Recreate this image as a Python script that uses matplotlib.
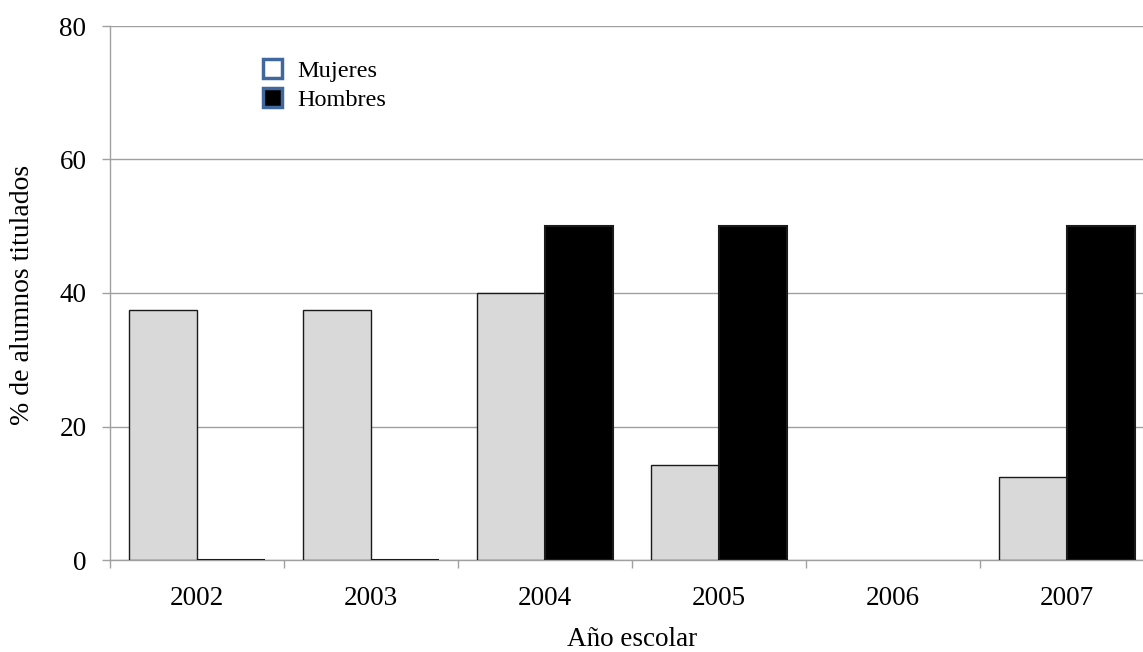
import numpy as np
import matplotlib.pyplot as plt
from matplotlib.patches import Patch
from matplotlib.ticker import FixedLocator, NullFormatter, FixedFormatter

# datos: % de alumnos titulados por año escolar
years = ['2002', '2003', '2004', '2005', '2006', '2007']
mujeres = [37.5, 37.5, 40.0, 14.3, np.nan, 12.5]
hombres = [0.0, 0.0, 50.0, 50.0, np.nan, 50.0]
yticks = [0, 20, 40, 60, 80]

plt.rcParams['font.family'] = ['Liberation Serif', 'DejaVu Serif']

W, H = 1143, 652
fig = plt.figure(figsize=(W / 100, H / 100), dpi=100)
# plot area runs a bit past the right edge of the canvas
ax = fig.add_axes([110 / W, 1 - 560 / H, 1044 / W, 534 / H])

grey = '#a0a0a0'
x = np.arange(len(years))
bw = 0.39
ax.bar(x - bw / 2, mujeres, width=bw, color='#d9d9d9', edgecolor='#1a1a1a',
       linewidth=1.0, zorder=3)
ax.bar(x + bw / 2, hombres, width=bw, color='black', edgecolor='#1a1a1a',
       linewidth=1.5, zorder=3)

ax.set_xlim(-0.5, len(years) - 0.5)
ax.set_ylim(0, 80)

ax.set_yticks(yticks)
ax.set_yticklabels([str(v) for v in yticks])
ax.yaxis.grid(True, color=grey, linewidth=1.0, zorder=0)
ax.set_axisbelow(True)

# category boundaries carry the tick marks, labels sit in the middle
ax.xaxis.set_major_locator(FixedLocator(np.arange(len(years) + 1) - 0.5))
ax.xaxis.set_major_formatter(NullFormatter())
ax.xaxis.set_minor_locator(FixedLocator(x))
ax.xaxis.set_minor_formatter(FixedFormatter(years))
ax.tick_params(axis='x', which='major', direction='out', length=6, width=1, color=grey)
ax.tick_params(axis='x', which='minor', length=0, pad=18.5, labelsize=19.5)
ax.tick_params(axis='y', direction='out', length=6, width=1, color=grey,
               pad=11, labelsize=19.5)

for s in ['top', 'right']:
    ax.spines[s].set_visible(False)
for s in ['left', 'bottom']:
    ax.spines[s].set_color(grey)
    ax.spines[s].set_linewidth(1.0)

fig.text(632 / W, 1 - 639 / H, 'Año escolar', ha='center', va='center', fontsize=19.5)
fig.text(23 / W, 1 - 295 / H, '% de alumnos titulados', ha='center', va='center',
         rotation=90, fontsize=20)

handles = [Patch(facecolor='white', edgecolor='#41689c', linewidth=2.5, joinstyle='round'),
           Patch(facecolor='black', edgecolor='#41689c', linewidth=2.5, joinstyle='round')]
ax.legend(handles, ['Mujeres', 'Hombres'], loc='upper left',
          bbox_to_anchor=(263 / W, 1 - 59 / H), bbox_transform=fig.transFigure,
          frameon=False, fontsize=17.5, handlelength=0.8, handleheight=0.8,
          handletextpad=0.6, labelspacing=0.27, borderpad=0, borderaxespad=0)

fig.savefig('out.png', dpi=100)
